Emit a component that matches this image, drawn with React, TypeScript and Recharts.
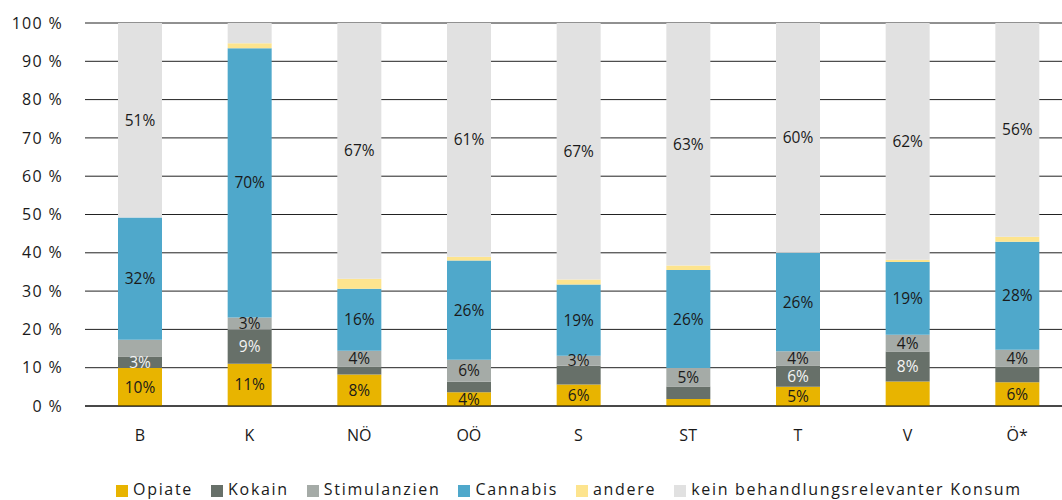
import { BarChart, Bar, XAxis, YAxis, CartesianGrid, Legend, LabelList } from 'recharts';

const regions = ['B', 'K', 'NÖ', 'OÖ', 'S', 'ST', 'T', 'V', 'Ö*'];

// share of treatment-relevant consumption per region, in percent
const opiate = [9.9, 11.0, 8.2, 3.6, 5.6, 1.8, 5.0, 6.4, 6.2];
const kokain = [3.0, 8.9, 2.1, 2.7, 4.9, 3.3, 5.6, 7.8, 4.1];
const stimulanzien = [4.4, 3.2, 4.1, 5.8, 2.6, 4.8, 3.7, 4.4, 4.4];
const cannabis = [31.9, 70.3, 16.2, 25.9, 18.6, 25.6, 25.7, 19.0, 28.2];
const andere = [0, 1.3, 2.6, 1.0, 1.3, 1.2, 0, 0.6, 1.3];
const keinKonsum = [50.8, 5.3, 66.8, 61.0, 67.0, 63.3, 60.0, 61.8, 55.8];

// which segments carry a value label
const opiateLabeled = [1, 1, 1, 1, 1, 0, 1, 0, 1];
const kokainLabeled = [1, 1, 0, 0, 0, 0, 1, 1, 0];
const stimLabeled = [0, 1, 1, 1, 1, 1, 1, 1, 1];
const cannabisLabeled = [1, 1, 1, 1, 1, 1, 1, 1, 1];
const keinLabeled = [1, 0, 1, 1, 1, 1, 1, 1, 1];

const yTicks = [0, 10, 20, 30, 40, 50, 60, 70, 80, 90, 100];

const FONT = '"Open Sans", sans-serif';
const TEXT = '#1a1a1a';

const series = [
  { key: 'opiate', name: 'Opiate', color: '#e8b400', labelColor: TEXT },
  { key: 'kokain', name: 'Kokain', color: '#677069', labelColor: '#f4f4f4' },
  { key: 'stim', name: 'Stimulanzien', color: '#a5aba7', labelColor: TEXT },
  { key: 'cannabis', name: 'Cannabis', color: '#4fa8cb', labelColor: TEXT },
  { key: 'andere', name: 'andere', color: '#fde48e', labelColor: TEXT },
  { key: 'kein', name: 'kein behandlungsrelevanter Konsum', color: '#e1e1e1', labelColor: TEXT },
];

const pick = (vals: number[], flags: number[], i: number) => (flags[i] ? vals[i] : null);

const data = regions.map((region, i) => ({
  region,
  opiate: opiate[i],
  kokain: kokain[i],
  stim: stimulanzien[i],
  cannabis: cannabis[i],
  andere: andere[i],
  kein: keinKonsum[i],
  opiateLabel: pick(opiate, opiateLabeled, i),
  kokainLabel: pick(kokain, kokainLabeled, i),
  stimLabel: pick(stimulanzien, stimLabeled, i),
  cannabisLabel: pick(cannabis, cannabisLabeled, i),
  keinLabel: pick(keinKonsum, keinLabeled, i),
}));

const pct = (v: any) => (v == null ? '' : `${Math.round(v)}%`);

function LegendRow() {
  return (
    <div style={{ display: 'flex', alignItems: 'center', fontFamily: FONT, fontSize: 16, color: TEXT, letterSpacing: 1.7, whiteSpace: 'nowrap' }}>
      {series.map((s) => (
        <div key={s.key} style={{ display: 'flex', alignItems: 'center', marginRight: 18 }}>
          <span style={{ display: 'inline-block', width: 12, height: 12, background: s.color, marginRight: 5, marginTop: 3 }} />
          <span>{s.name}</span>
        </div>
      ))}
    </div>
  );
}

export default function App() {
  return (
    <div style={{ position: 'absolute', left: 0, top: 0, width: 1062, height: 500, overflow: 'hidden', background: '#fff' }}>
      <BarChart
        width={1072}
        height={500}
        data={data}
        margin={{ top: 23, right: 0, bottom: 0, left: 0 }}
        barSize={44}
      >
        <CartesianGrid vertical={false} stroke="#222" strokeWidth={1} />
        <XAxis
          dataKey="region"
          height={72}
          tickLine={false}
          tickSize={0}
          tickMargin={24}
          axisLine={{ stroke: '#000' }}
          tick={{ fill: TEXT, fontFamily: FONT, fontSize: 16 }}
        />
        <YAxis
          domain={[0, 100]}
          ticks={yTicks}
          allowDataOverflow
          width={85}
          axisLine={false}
          tickLine={false}
          tickSize={0}
          tickMargin={22}
          tickFormatter={(v) => `${v} %`}
          tick={{ fill: TEXT, fontFamily: FONT, fontSize: 16, letterSpacing: 1.3 }}
        />
        <Legend
          verticalAlign="bottom"
          content={() => <LegendRow />}
          wrapperStyle={{ left: 116, width: 'auto', height: 22 }}
        />
        {series.map((s) => (
          <Bar key={s.key} dataKey={s.key} name={s.name} stackId="a" fill={s.color} isAnimationActive={false}>
            {s.key !== 'andere' && (
              <LabelList
                dataKey={`${s.key}Label`}
                position="center"
                formatter={pct}
                fill={s.labelColor}
                fontFamily={FONT}
                fontSize={15.5}
              />
            )}
          </Bar>
        ))}
      </BarChart>
    </div>
  );
}
